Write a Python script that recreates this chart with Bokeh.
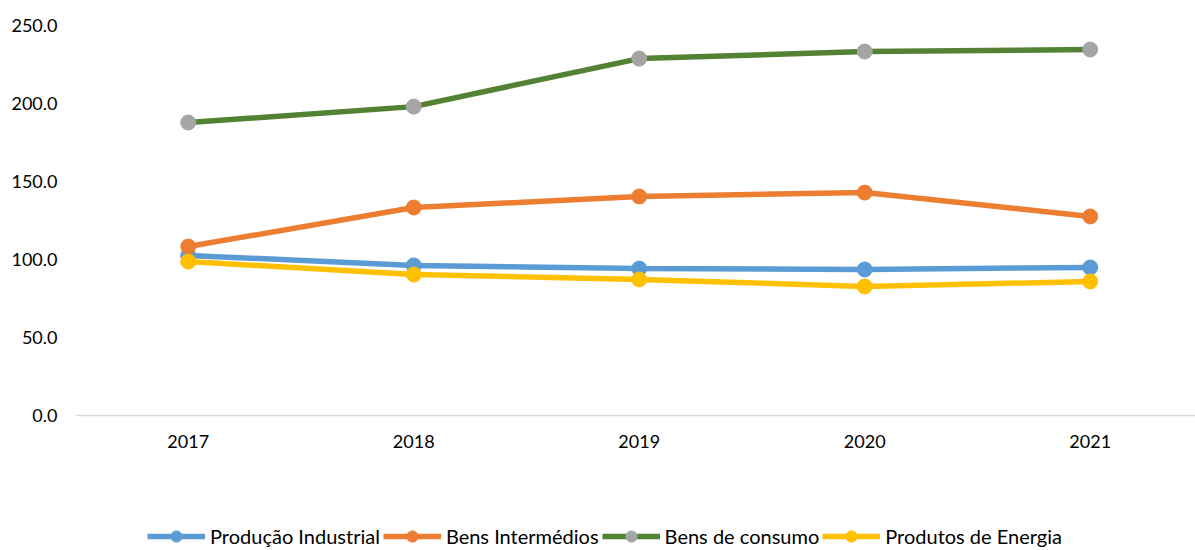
from bokeh.plotting import figure
from bokeh.models import Legend, LegendItem, FixedTicker, NumeralTickFormatter, Range1d, Span
from bokeh.core.properties import value
from bokeh.embed import file_html
from bokeh.resources import INLINE

years = [2017, 2018, 2019, 2020, 2021]
year_labels = ["2017", "2018", "2019", "2020", "2021"]
producao = [102.6, 96.2, 94.2, 93.6, 94.9]
intermedios = [108.3, 133.3, 140.4, 142.9, 127.6]
consumo = [187.8, 198.0, 228.8, 233.3, 234.6]
energia = [98.7, 90.4, 87.2, 82.7, 85.9]
y_ticks = [0, 50, 100, 150, 200, 250]

FONT = "Lato"

# frame covers the lower area too, so the category labels and legend can sit inside it
p = figure(width=1195, height=550, output_backend="svg", toolbar_location=None,
           x_range=Range1d(2016.5, 2021.467), y_range=Range1d(-86.54, 250),
           x_axis_location=None,
           min_border_left=75, min_border_right=0, min_border_top=25, min_border_bottom=0)
p.outline_line_color = None
p.xgrid.visible = False
p.ygrid.visible = False

# category axis baseline at 0
p.add_layout(Span(location=0, dimension="width", line_color="#D9D9D9", line_width=1.5))

series = [
    ("Produção Industrial", producao, "#5B9BD5", "#5B9BD5"),
    ("Bens Intermédios", intermedios, "#ED7D31", "#ED7D31"),
    ("Bens de consumo", consumo, "#548235", "#A5A5A5"),
    ("Produtos de Energia", energia, "#FFC000", "#FFC000"),
]

items = []
for name, vals, lc, mc in series:
    l = p.line(years, vals, line_color=lc, line_width=5.5)
    s = p.scatter(years, vals, size=15, fill_color=mc, line_color=mc)
    items.append(LegendItem(label=name, renderers=[l, s]))

# year labels under the baseline
p.text(x=years, y=[0] * len(years), text=year_labels, y_offset=26,
       text_align="center", text_baseline="middle",
       text_font=value(FONT), text_font_size="18px", text_color="#000000")

# y axis
p.yaxis.ticker = FixedTicker(ticks=y_ticks)
p.yaxis.formatter = NumeralTickFormatter(format="0.0")
p.yaxis.axis_line_color = None
p.yaxis.major_tick_line_color = None
p.yaxis.minor_tick_line_color = None
p.yaxis.major_label_text_font = FONT
p.yaxis.major_label_text_font_size = "18px"
p.yaxis.major_label_text_color = "#000000"
p.yaxis.major_label_standoff = 12

legend = Legend(items=items, orientation="horizontal", location=(72, 0),
                glyph_width=58, glyph_height=28, label_standoff=5, spacing=3,
                padding=0, margin=0, border_line_color=None, background_fill_alpha=0,
                label_text_font=FONT, label_text_font_size="20px", label_text_color="#000000")
p.add_layout(legend, "center")

open("out.html", "w").write(file_html(p, INLINE))
